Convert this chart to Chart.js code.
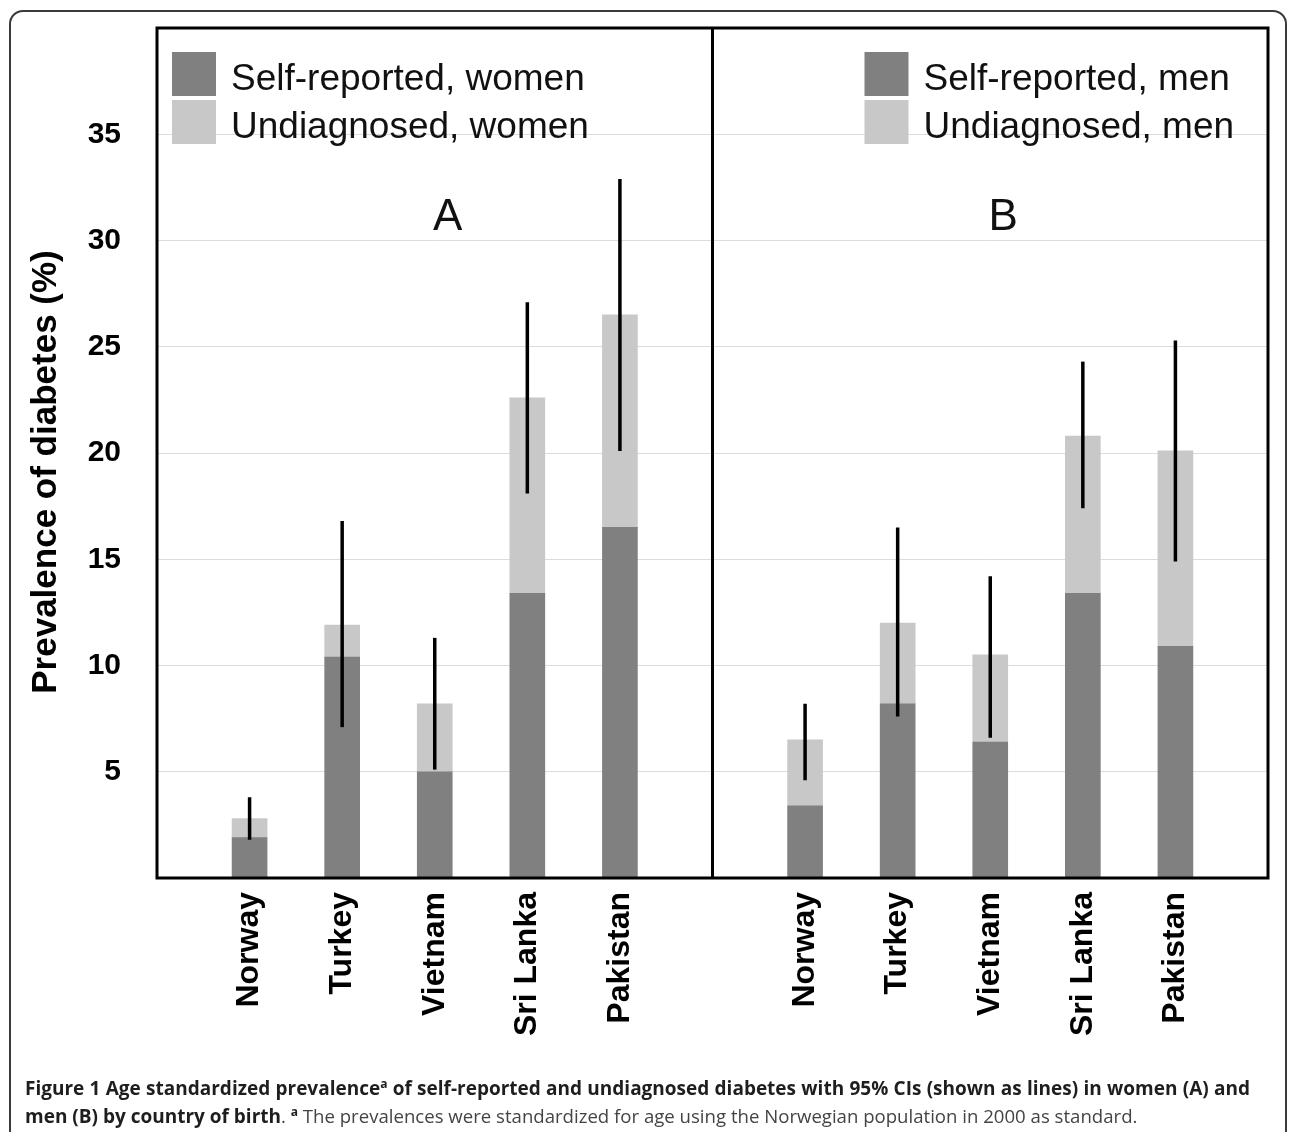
<!DOCTYPE html>
<html>
<head>
<meta charset="utf-8">
<script src="https://cdn.jsdelivr.net/npm/chart.js@4.4.1/dist/chart.umd.min.js"></script>
<style>
  body { margin: 0; background: #fff; }
  #wrap { position: relative; width: 1290px; height: 1132px; overflow: hidden; }
  #frame { position: absolute; left: 9px; top: 10px; width: 1278px; height: 1160px;
           box-sizing: border-box; border: 2px solid #3a3a3a; border-radius: 14px; }
  #myChart { position: absolute; left: 0; top: 0; }
  #caption { position: absolute; left: 25px; top: 1074px; width: 1225px;
             font-family: "Open Sans", sans-serif; font-size: 18.6px; line-height: 27px; color: #444; }
  #caption .l1 { text-align: justify; text-align-last: justify; white-space: nowrap; }
  #caption b { color: #1e1e1e; font-size: 19px; }
  #caption sup { font-size: 12px; line-height: 0; }
</style>
</head>
<body>
<div id="wrap">
  <div id="frame"></div>
  <canvas id="myChart" width="1290" height="1132"></canvas>
  <div id="caption">
    <div class="l1"><b>Figure 1 Age standardized prevalence<sup>a</sup> of self-reported and undiagnosed diabetes with 95% CIs (shown as lines) in women (A) and</b></div>
    <div><b>men (B) by country of birth</b>. <b><sup>a</sup></b> The prevalences were standardized for age using the Norwegian population in 2000 as standard.</div>
  </div>
</div>
<script>
const countries = ["Norway", "Turkey", "Vietnam", "Sri Lanka", "Pakistan"];

// panel A, women (%)
const womenSelf = [1.9, 10.4, 5.0, 13.4, 16.5];
const womenUndiag = [0.9, 1.5, 3.2, 9.2, 10.0];
const womenCiLow = [1.8, 7.1, 5.1, 18.1, 20.1];
const womenCiHigh = [3.8, 16.8, 11.3, 27.1, 32.9];

// panel B, men (%)
const menSelf = [3.4, 8.2, 6.4, 13.4, 10.9];
const menUndiag = [3.1, 3.8, 4.1, 7.4, 9.2];
const menCiLow = [4.6, 7.6, 6.6, 17.4, 14.9];
const menCiHigh = [8.2, 16.5, 14.2, 24.3, 25.3];

const yTicks = [5, 10, 15, 20, 25, 30, 35];

const DARK = "#808080";
const LIGHT = "#c8c8c8";

// one category axis for both panels, empty slots at the panel edges
const labels = ["", ...countries, "", ...countries, ""];
const selfData = [null, ...womenSelf, null, ...menSelf, null];
const undiagData = [null, ...womenUndiag, null, ...menUndiag, null];
const ciLow = [null, ...womenCiLow, null, ...menCiLow, null];
const ciHigh = [null, ...womenCiHigh, null, ...menCiHigh, null];

const extras = {
  id: "extras",
  afterDatasetsDraw(chart) {
    const { ctx, chartArea: a, scales: { x, y } } = chart;
    ctx.save();

    // confidence interval lines
    ctx.strokeStyle = "#000";
    ctx.lineWidth = 3.5;
    ciLow.forEach((lo, i) => {
      if (lo == null) return;
      const px = x.getPixelForValue(i);
      ctx.beginPath();
      ctx.moveTo(px, y.getPixelForValue(lo));
      ctx.lineTo(px, y.getPixelForValue(ciHigh[i]));
      ctx.stroke();
    });

    // plot frame and panel divider
    const mid = x.getPixelForValue(6);
    ctx.lineWidth = 3;
    ctx.strokeRect(a.left, a.top, a.right - a.left, a.bottom - a.top);
    ctx.beginPath();
    ctx.moveTo(mid, a.top);
    ctx.lineTo(mid, a.bottom);
    ctx.stroke();

    // panel letters
    ctx.fillStyle = "#111";
    ctx.font = "44px 'Liberation Sans', Arial, sans-serif";
    ctx.textAlign = "center";
    ctx.textBaseline = "middle";
    ctx.fillText("A", x.getPixelForValue(3) + 13, 218);
    ctx.fillText("B", x.getPixelForValue(9) + 13, 218);

    // legends
    const legend = (left, names) => {
      ctx.font = "37px 'Liberation Sans', Arial, sans-serif";
      ctx.textAlign = "left";
      [DARK, LIGHT].forEach((c, k) => {
        const top = a.top + 24 + k * 48;
        ctx.fillStyle = c;
        ctx.fillRect(left, top, 44, 44);
        ctx.fillStyle = "#111";
        ctx.fillText(names[k], left + 59, top + 28);
      });
    };
    legend(a.left + 15, ["Self-reported, women", "Undiagnosed, women"]);
    legend(mid + 152, ["Self-reported, men", "Undiagnosed, men"]);

    // y axis title
    ctx.translate(46, 472);
    ctx.rotate(-Math.PI / 2);
    ctx.font = "bold 35px 'Liberation Sans', Arial, sans-serif";
    ctx.textAlign = "center";
    ctx.fillStyle = "#000";
    ctx.fillText("Prevalence of diabetes (%)", 0, 0);
    ctx.restore();
  }
};

const ctx = document.getElementById("myChart").getContext("2d");
const myChart = new Chart(ctx, {
  type: "bar",
  data: {
    labels: labels,
    datasets: [
      {
        label: "Self-reported",
        data: selfData,
        backgroundColor: DARK,
        barThickness: 35,
      },
      {
        label: "Undiagnosed",
        data: undiagData,
        backgroundColor: LIGHT,
        barThickness: 35,
      },
    ],
  },
  options: {
    responsive: false,
    animation: false,
    devicePixelRatio: 1,
    layout: { padding: { top: 28, right: 22, left: 0, bottom: 0 } },
    plugins: {
      legend: { display: false },
      tooltip: { enabled: false },
    },
    scales: {
      x: {
        stacked: true,
        offset: false,
        grid: { display: false, drawTicks: false },
        border: { display: false },
        ticks: {
          autoSkip: false,
          maxRotation: 90,
          minRotation: 90,
          padding: 14,
          color: "#000",
          font: { family: "'Liberation Sans', Arial, sans-serif", size: 32, weight: "bold" },
        },
        afterFit: (s) => { s.height = 254; s.paddingLeft = 0; s.paddingRight = 0; },
      },
      y: {
        stacked: true,
        min: 0,
        max: 40,
        grid: { color: "#dcdcdc", lineWidth: 1, drawTicks: false },
        border: { display: false },
        ticks: {
          padding: 36,
          color: "#000",
          font: { family: "'Liberation Sans', Arial, sans-serif", size: 30, weight: "bold" },
        },
        afterBuildTicks: (s) => { s.ticks = yTicks.map((v) => ({ value: v })); },
        afterFit: (s) => { s.width = 157; s.paddingTop = 0; s.paddingBottom = 0; },
      },
    },
  },
  plugins: [extras],
});
</script>
</body>
</html>
